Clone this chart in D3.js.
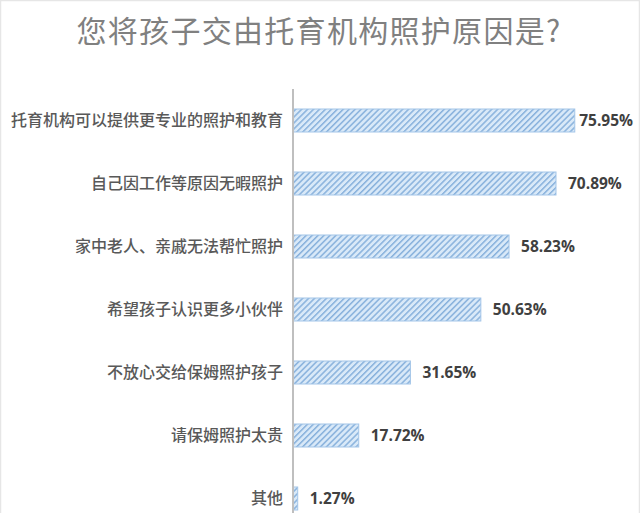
<!DOCTYPE html>
<html><head><meta charset="utf-8">
<script src="https://cdn.jsdelivr.net/npm/d3@7/dist/d3.min.js"></script>
<style>
html,body{margin:0;padding:0;background:#fff;}
svg{display:block;}
</style></head>
<body>
<svg id="chart" width="640" height="513"></svg>
<script>
const title = "您将孩子交由托育机构照护原因是?";
const categories = ["托育机构可以提供更专业的照护和教育","自己因工作等原因无暇照护","家中老人、亲戚无法帮忙照护","希望孩子认识更多小伙伴","不放心交给保姆照护孩子","请保姆照护太贵","其他"];
const values = [75.95,70.89,58.23,50.63,31.65,17.72,1.27];
const valueLabels = ["75.95%","70.89%","58.23%","50.63%","31.65%","17.72%","1.27%"];

const W = 640, H = 513;
const svg = d3.select("#chart");
const defs = svg.append("defs");
const pat = defs.append("pattern").attr("id","hatch").attr("patternUnits","userSpaceOnUse")
  .attr("width",4.2).attr("height",4.2).attr("patternTransform","rotate(45)");
pat.append("rect").attr("width",4.2).attr("height",4.2).attr("fill","#d9e9f8");
pat.append("rect").attr("x",0).attr("width",1.5).attr("height",4.2).attr("fill","#88b1dc");

// faint frame
svg.append("rect").attr("x",0.5).attr("y",0.5).attr("width",W-1).attr("height",H+5)
  .attr("fill","none").attr("stroke","#e6e6e6").attr("stroke-width",1.5);

svg.append("text").attr("x",319).attr("y",42).attr("text-anchor","middle")
  .attr("font-family","'Noto Sans CJK SC','Noto Sans',sans-serif").attr("font-weight",400)
  .attr("font-size",30).attr("fill","#808080").attr("letter-spacing",1.3).text(title);

const x0 = 293;
const x = d3.scaleLinear().domain([0,100]).range([x0, x0+371]);
const y = d3.scaleBand().domain(categories).range([89,530]).paddingInner(0.635).paddingOuter(0.3175);

svg.append("g").selectAll("rect").data(categories).join("rect")
  .attr("x", x(0)).attr("y", d=>y(d))
  .attr("width", (d,i)=>x(values[i])-x(0)).attr("height", y.bandwidth())
  .attr("fill","url(#hatch)").attr("stroke","#a3c5e8").attr("stroke-width",1);

svg.append("g").selectAll("text").data(categories).join("text")
  .attr("x", 283).attr("y", d=>y(d)+y.bandwidth()/2).attr("dy","0.36em")
  .attr("text-anchor","end")
  .attr("font-family","'Noto Sans CJK SC',sans-serif").attr("font-weight",500)
  .attr("font-size",16).attr("fill","#595959").text(d=>d);

const vl = svg.append("g").selectAll("text").data(categories).join("text")
  .attr("y", d=>y(d)+y.bandwidth()/2).attr("dy","0.36em")
  .attr("font-family","'Open Sans','Liberation Sans',sans-serif").attr("font-weight",700)
  .attr("font-size",15.5).attr("fill","#404040").text((d,i)=>valueLabels[i]);
vl.each(function(d,i){
  const w = this.getComputedTextLength();
  const px = Math.min(x(values[i]) + 12, 633 - w);
  d3.select(this).attr("x", px);
});

// axis line
svg.append("line").attr("x1",x0).attr("x2",x0).attr("y1",89).attr("y2",H)
  .attr("stroke","#bfbfbf").attr("stroke-width",2);
</script>
</body></html>
